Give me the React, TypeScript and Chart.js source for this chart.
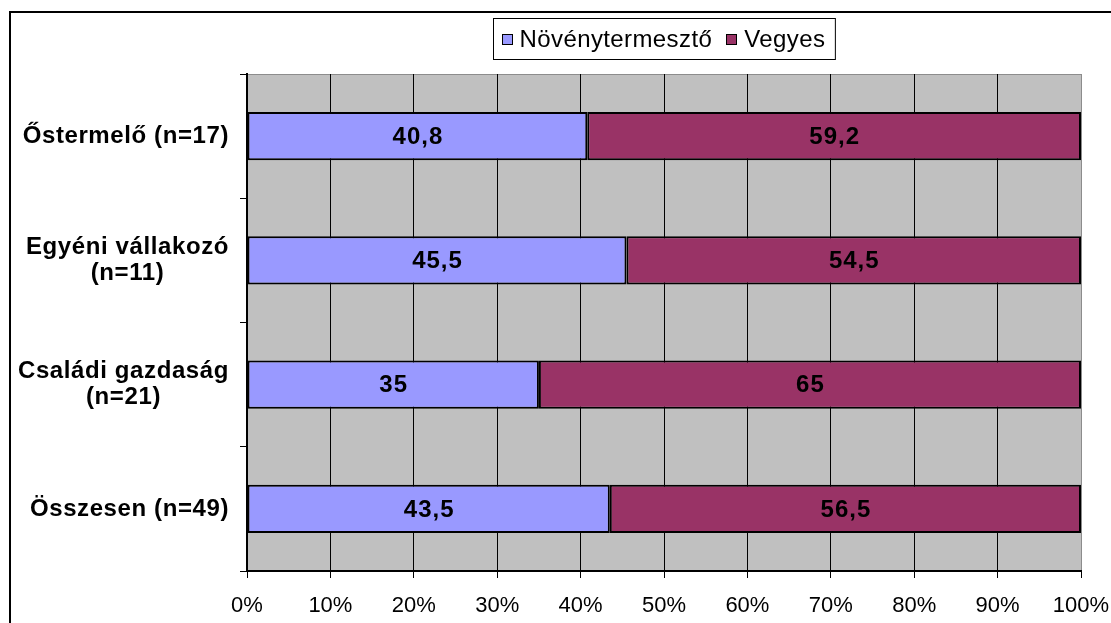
import React, { useEffect, useRef } from "react";
import { Chart, registerables } from "chart.js";

Chart.register(...registerables);

const categories: (string | string[])[] = [
  "Őstermelő (n=17)",
  ["Egyéni vállakozó", "(n=11)"],
  ["Családi gazdaság", "(n=21)"],
  "Összesen (n=49)",
];
const seriesNames = ["Növénytermesztő", "Vegyes"];
const novenyValues = [40.8, 45.5, 35, 43.5];
const vegyesValues = [59.2, 54.5, 65, 56.5];
const xTicks = [0, 10, 20, 30, 40, 50, 60, 70, 80, 90, 100];

const FONT = "'Liberation Sans', Arial, sans-serif";
const COLORS = ["#9999FF", "#993366"];

const fmt = (v: number) => String(v).replace(".", ",");

const customPlugin = {
  id: "custom",
  beforeDraw(chart: any) {
    const { ctx, chartArea: a } = chart;
    ctx.save();
    ctx.fillStyle = "#C0C0C0";
    ctx.fillRect(a.left, a.top, a.right - a.left, a.bottom - a.top);
    ctx.strokeStyle = "#8C8C8C";
    ctx.lineWidth = 1;
    ctx.beginPath();
    ctx.moveTo(a.left, a.top + 0.5);
    ctx.lineTo(a.right, a.top + 0.5);
    ctx.stroke();
    ctx.restore();
  },
  afterDraw(chart: any) {
    const { ctx, chartArea: a } = chart;
    ctx.save();
    // data labels
    ctx.font = `bold 24px ${FONT}`;
    (ctx as any).letterSpacing = "1px";
    ctx.fillStyle = "#000";
    ctx.textAlign = "center";
    ctx.textBaseline = "middle";
    chart.data.datasets.forEach((ds: any, di: number) => {
      const meta = chart.getDatasetMeta(di);
      meta.data.forEach((bar: any, i: number) => {
        const c = bar.getCenterPoint();
        ctx.fillText(fmt(ds.data[i]), c.x + 0.5, c.y + 1);
      });
    });
    // y category labels (right aligned block, lines centered within)
    const yScale = chart.scales.y;
    ctx.font = `bold 24px ${FONT}`;
    (ctx as any).letterSpacing = "0.6px";
    const rightX = 229;
    const lh = 26;
    categories.forEach((cat, i) => {
      const lines = Array.isArray(cat) ? cat : [cat];
      const widths = lines.map((l) => ctx.measureText(l).width);
      const bw = Math.max(...widths);
      const cy = yScale.getPixelForValue(i);
      lines.forEach((l, li) => {
        const y = cy + (li - (lines.length - 1) / 2) * lh;
        ctx.textAlign = "center";
        ctx.fillText(l, rightX - bw / 2, y);
      });
    });
    // legend
    ctx.font = `24px ${FONT}`;
    (ctx as any).letterSpacing = "0.4px";
    const sq = 11;
    const gapSqText = 7;
    const gapItems = 14;
    const padL = 8;
    const padR = 10;
    const tw = seriesNames.map((n) => ctx.measureText(n).width);
    const total =
      padL + seriesNames.reduce((s, _n, i) => s + sq + gapSqText + tw[i], 0) + gapItems * (seriesNames.length - 1) + padR;
    const cx = (a.left + a.right) / 2;
    const bx = Math.round(cx - total / 2) + 0.5;
    const by = 18.5;
    const bh = 41;
    ctx.fillStyle = "#FFFFFF";
    ctx.fillRect(bx, by, total, bh);
    ctx.strokeStyle = "#000";
    ctx.lineWidth = 1;
    ctx.strokeRect(bx, by, total, bh);
    let x = bx + padL;
    const my = by + bh / 2;
    seriesNames.forEach((n, i) => {
      ctx.fillStyle = COLORS[i];
      ctx.fillRect(Math.round(x), Math.round(my - sq / 2), sq, sq);
      ctx.strokeStyle = "#000";
      ctx.strokeRect(Math.round(x) + 0.5, Math.round(my - sq / 2) + 0.5, sq - 1, sq - 1);
      x += sq + gapSqText;
      ctx.fillStyle = "#000";
      ctx.textAlign = "left";
      ctx.textBaseline = "middle";
      ctx.fillText(n, x, my + 1);
      x += tw[i] + gapItems;
    });
    ctx.restore();
  },
};

export default function App() {
  const ref = useRef<HTMLCanvasElement | null>(null);
  useEffect(() => {
    if (!ref.current) return;
    const chart = new Chart(ref.current, {
      type: "bar",
      data: {
        labels: categories.map((c) => (Array.isArray(c) ? c.join(" ") : c)),
        datasets: [
          {
            label: seriesNames[0],
            data: novenyValues,
            backgroundColor: COLORS[0],
            borderColor: "#000",
            borderWidth: 2,
            borderSkipped: false,
            categoryPercentage: 1,
            barPercentage: 0.39,
          },
          {
            label: seriesNames[1],
            data: vegyesValues,
            backgroundColor: COLORS[1],
            borderColor: "#000",
            borderWidth: 2,
            borderSkipped: false,
            categoryPercentage: 1,
            barPercentage: 0.39,
          },
        ],
      },
      options: {
        indexAxis: "y",
        animation: false,
        responsive: false,
        devicePixelRatio: 1,
        layout: { padding: { top: 74, right: 30, left: 0, bottom: 0 } },
        plugins: {
          legend: { display: false },
          tooltip: { enabled: false },
        },
        scales: {
          x: {
            stacked: true,
            min: 0,
            max: 100,
            afterBuildTicks: (scale: any) => {
              scale.ticks = xTicks.map((v) => ({ value: v }));
            },
            afterFit: (scale: any) => {
              scale.height = 52;
              scale.paddingLeft = 0;
              scale.paddingRight = 0;
            },
            ticks: {
              callback: (v: any) => `${v}%`,
              color: "#000",
              font: { family: FONT, size: 22 },
              padding: 15,
              maxRotation: 0,
              autoSkip: false,
            },
            grid: {
              color: (c: any) => (c.tick && c.tick.value === 100 ? "#8C8C8C" : "#000"),
              tickColor: "#000",
              lineWidth: 1,
              tickLength: 7,
              drawOnChartArea: true,
            },
            border: { display: true, color: "#000", width: 2 },
          },
          y: {
            stacked: true,
            afterFit: (scale: any) => {
              scale.width = 247;
              scale.paddingTop = 0;
              scale.paddingBottom = 0;
            },
            ticks: { display: false },
            grid: {
              offset: true,
              drawOnChartArea: false,
              drawTicks: true,
              tickLength: 7,
              color: "#000",
              tickColor: "#000",
            },
            border: { display: true, color: "#000", width: 2 },
          },
        },
      },
      plugins: [customPlugin],
    } as any);
    return () => chart.destroy();
  }, []);
  return (
    <div
      style={{
        position: "fixed",
        left: 0,
        top: 0,
        width: 1111,
        height: 623,
        overflow: "hidden",
        background: "#fff",
      }}
    >
      <div
        style={{
          position: "absolute",
          left: 9,
          top: 11,
          width: 2000,
          height: 2000,
          border: "2px solid #000",
        }}
      />
      <canvas
        ref={ref}
        width={1111}
        height={623}
        style={{ position: "absolute", left: 0, top: 0, width: 1111, height: 623 }}
      />
    </div>
  );
}
